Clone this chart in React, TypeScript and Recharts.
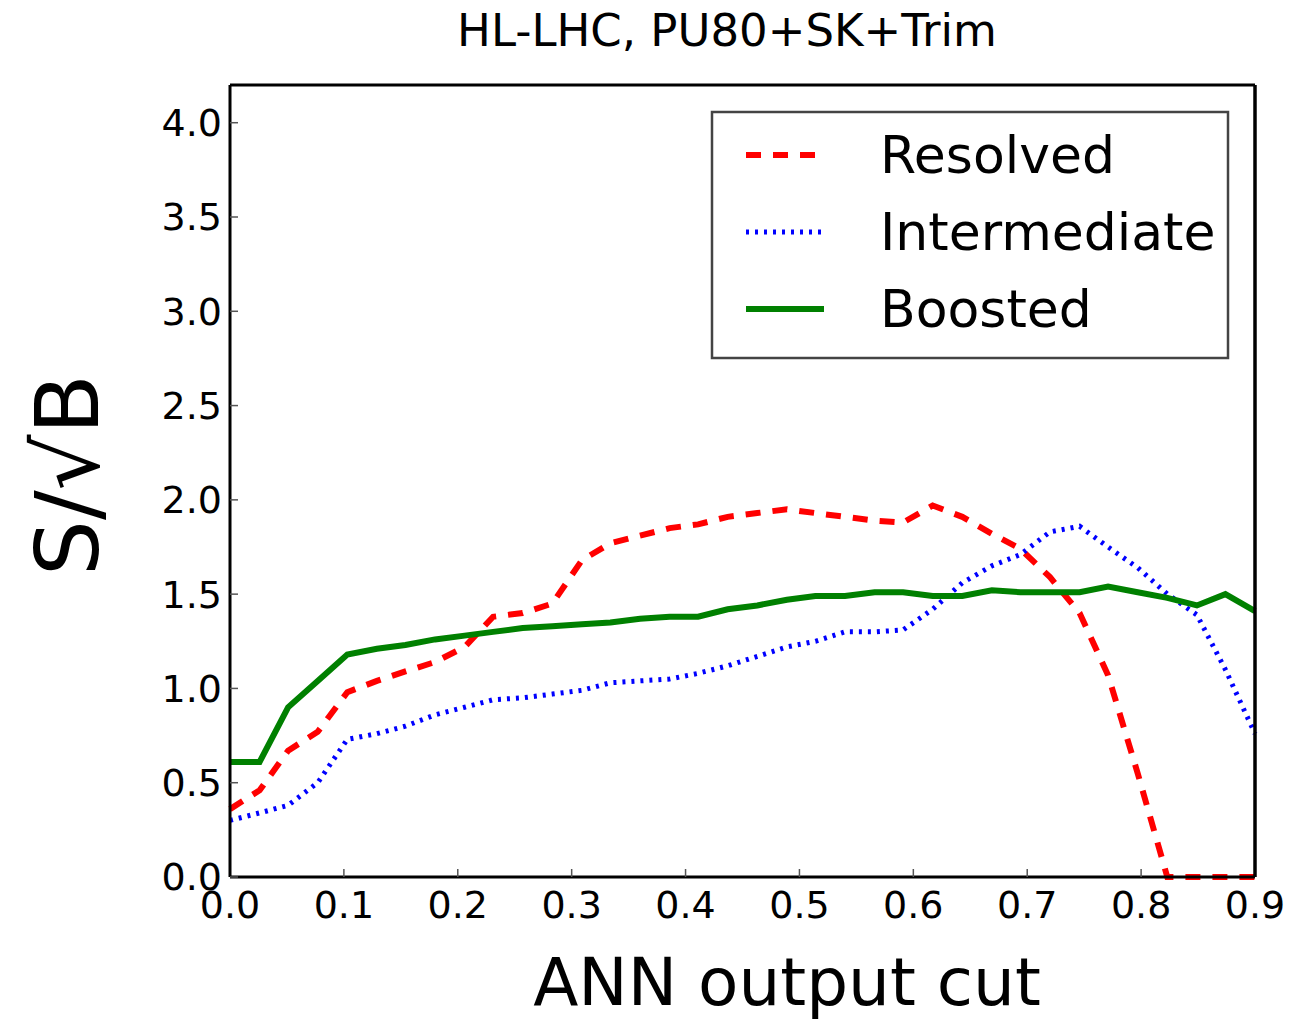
import { LineChart, Line, XAxis, YAxis } from 'recharts';

// ANN output cut values (x) and S/sqrt(B) for each topology
const cutValues = [
  0, 0.026, 0.051, 0.077, 0.103, 0.129, 0.154, 0.18, 0.206, 0.231, 0.257, 0.283,
  0.309, 0.334, 0.36, 0.386, 0.411, 0.437, 0.463, 0.489, 0.514, 0.54, 0.566, 0.591,
  0.617, 0.643, 0.669, 0.694, 0.72, 0.746, 0.771, 0.797, 0.823, 0.849, 0.874, 0.9,
];
const resolved = [
  0.36, 0.46, 0.67, 0.77, 0.98, 1.04, 1.09, 1.14, 1.22, 1.38, 1.4, 1.45,
  1.68, 1.77, 1.81, 1.85, 1.87, 1.91, 1.93, 1.95, 1.93, 1.91, 1.89, 1.88,
  1.97, 1.91, 1.82, 1.74, 1.59, 1.4, 1.07, 0.55, 0, 0, 0, 0,
];
const intermediate = [
  0.3, 0.34, 0.38, 0.5, 0.73, 0.76, 0.8, 0.86, 0.9, 0.94, 0.95, 0.97,
  0.99, 1.03, 1.04, 1.05, 1.08, 1.12, 1.17, 1.22, 1.25, 1.3, 1.3, 1.31,
  1.42, 1.56, 1.65, 1.71, 1.83, 1.86, 1.75, 1.64, 1.5, 1.39, 1.1, 0.76,
];
const boosted = [
  0.61, 0.61, 0.9, 1.04, 1.18, 1.21, 1.23, 1.26, 1.28, 1.3, 1.32, 1.33,
  1.34, 1.35, 1.37, 1.38, 1.38, 1.42, 1.44, 1.47, 1.49, 1.49, 1.51, 1.51,
  1.49, 1.49, 1.52, 1.51, 1.51, 1.51, 1.54, 1.51, 1.48, 1.44, 1.5, 1.41,
];

const xTicks = [0, 0.1, 0.2, 0.3, 0.4, 0.5, 0.6, 0.7, 0.8, 0.9];
const yTicks = [0, 0.5, 1, 1.5, 2, 2.5, 3, 3.5, 4];

const title = 'HL-LHC, PU80+SK+Trim';
const xLabel = 'ANN output cut';
const yLabel = 'S/√B';

const series = [
  { name: 'Resolved', color: '#ff0000', dash: '15 12', width: 6 },
  { name: 'Intermediate', color: '#0000ff', dash: '3 6', width: 5 },
  { name: 'Boosted', color: '#008000', dash: undefined, width: 6 },
];

const data = cutValues.map((x, i) => ({
  x,
  Resolved: resolved[i],
  Intermediate: intermediate[i],
  Boosted: boosted[i],
}));

const font = 'DejaVu Sans, sans-serif';
const tickStyle = { fill: '#000', fontSize: 38, fontFamily: font };
const fmt = (v: number) => v.toFixed(1);

export default function App() {
  return (
    <div style={{ position: 'absolute', left: 0, top: 0, width: 1293, height: 1020, background: '#fff' }}>
      <LineChart width={1293} height={1020} data={data} margin={{ top: 0, right: 0, bottom: 0, left: 0 }}>
        <XAxis
          dataKey="x"
          type="number"
          domain={[0, 0.9]}
          ticks={xTicks}
          tickFormatter={fmt}
          height={143}
          tickSize={-8}
          tickMargin={22}
          tick={tickStyle}
          axisLine={{ stroke: '#000', strokeWidth: 3 }}
          tickLine={{ stroke: '#555', strokeWidth: 1.5 }}
          interval={0}
        />
        <XAxis
          xAxisId="top"
          orientation="top"
          dataKey="x"
          type="number"
          domain={[0, 0.9]}
          ticks={xTicks}
          height={85}
          tickSize={-8}
          tick={false}
          axisLine={{ stroke: '#000', strokeWidth: 3 }}
          tickLine={{ stroke: '#555', strokeWidth: 1.5 }}
          interval={0}
        />
        <YAxis
          type="number"
          domain={[0, 4.2]}
          ticks={yTicks}
          tickFormatter={fmt}
          width={230}
          tickSize={-8}
          tickMargin={16}
          tick={tickStyle}
          axisLine={{ stroke: '#000', strokeWidth: 3 }}
          tickLine={{ stroke: '#555', strokeWidth: 1.5 }}
          interval={0}
        />
        <YAxis
          yAxisId="right"
          orientation="right"
          type="number"
          domain={[0, 4.2]}
          ticks={yTicks}
          width={38}
          tickSize={-8}
          tick={false}
          axisLine={{ stroke: '#000', strokeWidth: 3.5 }}
          tickLine={{ stroke: '#555', strokeWidth: 1.5 }}
          interval={0}
        />
        {series.map((s) => (
          <Line
            key={s.name}
            type="linear"
            dataKey={s.name}
            stroke={s.color}
            strokeWidth={s.width}
            strokeDasharray={s.dash}
            dot={false}
            activeDot={false}
            isAnimationActive={false}
          />
        ))}
      </LineChart>

      <svg
        width={1293}
        height={1020}
        style={{ position: 'absolute', left: 0, top: 0, pointerEvents: 'none' }}
        fontFamily={font}
      >
        <text x={727} y={30} fontSize={45} textAnchor="middle" dominantBaseline="central">
          {title}
        </text>
        <text x={787} y={1005} fontSize={66} textAnchor="middle">
          {xLabel}
        </text>
        <text
          x={0}
          y={0}
          fontSize={88}
          textAnchor="middle"
          dominantBaseline="central"
          transform="translate(67,475) rotate(-90)"
        >
          {yLabel}
        </text>

        <rect x={712} y={112} width={516} height={246} fill="#fff" stroke="#444" strokeWidth={2.5} />
        {series.map((s, i) => {
          const cy = 155 + i * 77;
          return (
            <g key={s.name}>
              <line
                x1={746}
                x2={824}
                y1={cy}
                y2={cy}
                stroke={s.color}
                strokeWidth={s.width}
                strokeDasharray={s.dash}
              />
              <text x={880} y={cy} fontSize={52} dominantBaseline="central">
                {s.name}
              </text>
            </g>
          );
        })}
      </svg>
    </div>
  );
}
